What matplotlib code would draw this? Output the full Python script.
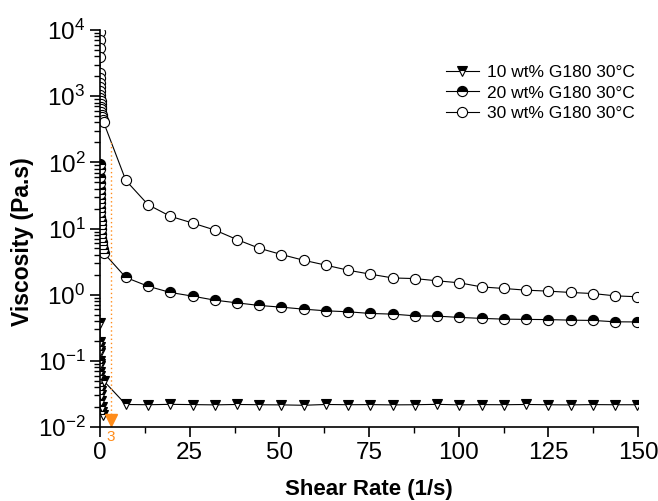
import matplotlib
matplotlib.use("Agg")
import matplotlib.pyplot as plt
from matplotlib.ticker import LogLocator, MultipleLocator, NullFormatter

plt.rcParams['font.family'] = ['Liberation Sans', 'DejaVu Sans']
plt.rcParams['mathtext.fontset'] = 'custom'
plt.rcParams['mathtext.rm'] = 'Liberation Sans'
plt.rcParams['axes.unicode_minus'] = False

# shear rate (1/s): low-rate log sweep then linear steps
shear_low = [0.01, 0.0127, 0.0162, 0.0207, 0.0264, 0.0336, 0.0428, 0.0546, 0.0695, 0.0886,
             0.113, 0.144, 0.183, 0.234, 0.298, 0.379, 0.483, 0.616, 0.785, 1.0]
shear_lin = [7.2, 13.4, 19.6, 25.8, 32.0, 38.2, 44.4, 50.6, 56.8, 63.0, 69.2, 75.4,
             81.6, 87.8, 94.0, 100.2, 106.4, 112.6, 118.8, 125.0, 131.2, 137.4, 143.6, 149.8]
shear = shear_low + shear_lin

visc_10 = [0.37, 0.19, 0.16, 0.13, 0.14, 0.10, 0.085, 0.09, 0.068, 0.06,
           0.052, 0.045, 0.040, 0.035, 0.030, 0.025, 0.020, 0.017, 0.015, 0.05,
           0.0219, 0.0217, 0.0220, 0.0218, 0.0216, 0.0219, 0.0217, 0.0216, 0.0213, 0.0219,
           0.0217, 0.0218, 0.0216, 0.0217, 0.0220, 0.0216, 0.0218, 0.0217, 0.0219, 0.0217,
           0.0216, 0.0218, 0.0217, 0.0217]
visc_20 = [96, 78, 61, 48, 40, 33, 28, 24, 20.5, 17.5,
           15, 13, 11.2, 9.7, 8.4, 7.3, 6.3, 5.6, 4.9, 4.3,
           1.82, 1.34, 1.08, 0.95, 0.826, 0.752, 0.687, 0.647, 0.604, 0.570, 0.551, 0.520,
           0.508, 0.479, 0.474, 0.453, 0.438, 0.427, 0.423, 0.420, 0.412, 0.408, 0.389, 0.387]
visc_30 = [9200, 7000, 5300, 3900, 2250, 1850, 1560, 1360, 1190, 1050,
           940, 840, 760, 690, 630, 575, 525, 480, 440, 405,
           53.3, 22.9, 15.3, 12.1, 9.49, 6.80, 5.03, 4.04, 3.31, 2.79, 2.34, 2.04,
           1.79, 1.75, 1.62, 1.51, 1.31, 1.24, 1.17, 1.13, 1.08, 1.04, 0.96, 0.93]

labels = ["10 wt% G180 30°C", "20 wt% G180 30°C", "30 wt% G180 30°C"]

cursor_x = 3
cursor_y = 0.0128
cursor_top = 212

fig = plt.figure(figsize=(6.58, 5.01), dpi=100)
ax = fig.add_axes([100/658, 1-427/501, 538/658, 397/501])

lw = 0.8
ax.plot(shear, visc_10, color='black', lw=lw, marker='v', markersize=7.5,
        fillstyle='top', markerfacecolor='black', markerfacecoloralt='white',
        markeredgecolor='black', markeredgewidth=0.8, label=labels[0])
ax.plot(shear, visc_20, color='black', lw=lw, marker='o', markersize=7.3,
        fillstyle='top', markerfacecolor='black', markerfacecoloralt='white',
        markeredgecolor='black', markeredgewidth=0.8, label=labels[1])
ax.plot(shear, visc_30, color='black', lw=lw, marker='o', markersize=7.3,
        markerfacecolor='white', markeredgecolor='black', markeredgewidth=0.8,
        label=labels[2])

orange = '#FF8C1A'
ax.plot([cursor_x, cursor_x], [0.01, cursor_top], color=orange, lw=1.0, ls=(0, (1, 2)))
ax.plot([cursor_x], [cursor_y], marker='v', color=orange, markersize=9, clip_on=False,
        ls='none')
ax.annotate(str(cursor_x), xy=(cursor_x, 0.01), xytext=(0, -2), textcoords='offset points',
            ha='center', va='top', color=orange, fontsize=11, annotation_clip=False)

ax.set_yscale('log')
ax.set_xlim(0, 150)
ax.set_ylim(0.01, 1e4)
ax.xaxis.set_major_locator(MultipleLocator(25))
ax.xaxis.set_minor_locator(MultipleLocator(12.5))
ax.yaxis.set_major_locator(LogLocator(base=10, numticks=20))
ax.yaxis.set_minor_locator(LogLocator(base=10, subs=range(2, 10), numticks=20))
ax.yaxis.set_minor_formatter(NullFormatter())

for s in ['top', 'right']:
    ax.spines[s].set_visible(False)
for s in ['left', 'bottom']:
    ax.spines[s].set_linewidth(1.2)

ax.tick_params(axis='both', which='major', direction='out', length=7.5, width=1.2,
               labelsize=17.5, pad=3)
ax.tick_params(axis='both', which='minor', direction='out', length=4.5, width=1.0)

fig.text(369/658, 1-490/501, "Shear Rate (1/s)", fontsize=16, fontweight='bold',
         ha='center', va='center')
fig.text(23/658, 1-242/501, "Viscosity (Pa.s)", fontsize=16.5, fontweight='bold',
         ha='center', va='center', rotation=90)

leg = ax.legend(loc='upper left', bbox_to_anchor=(446/658, 1-65/501),
                bbox_transform=fig.transFigure, frameon=False, fontsize=12.5,
                handlelength=1.9, handletextpad=0.45, labelspacing=0.3,
                borderpad=0, borderaxespad=0, numpoints=1)

fig.savefig("out.png", dpi=100)
